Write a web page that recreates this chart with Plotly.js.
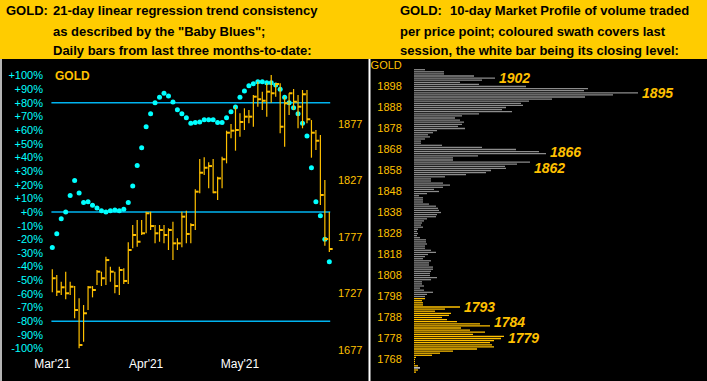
<!DOCTYPE html>
<html><head><meta charset="utf-8">
<script src="https://cdn.plot.ly/plotly-3.0.1.min.js"></script>
<style>html,body{margin:0;padding:0;background:#000;overflow:hidden}#chart{width:707px;height:381px}</style>
</head><body><div id="chart"></div>
<script>
// ---------- DATA ----------
const monthTickIndex = [0, 21, 42];
const monthLabels = ["Mar'21", "Apr'21", "May'21"];

const barHigh = [1748.4,1743.4,1737.4,1746.3,1737.4,1733.6,1722.7,1716.8,1733.6,1733.6,
  1747.8,1746.3,1759.6,1750.7,1746.3,1750.7,1749.3,1772.3,1787.6,1792,
  1792,1799.4,1799.4,1787.6,1787.6,1787.6,1784.7,1790.5,1775.8,1799.4,
  1800.3,1789.1,1819.2,1846,1847.5,1843.1,1846,1830.4,1848.1,1871.1,
  1877,1892.3,1886.5,1890.9,1889.4,1902.7,1914.4,1905.6,1913,1920.4,
  1913,1913,1901.2,1904.2,1908,1902.7,1907.1,1907.1,1880.5,1871.7,
  1867.3,1827.4,1799.1];
const barLow = [1728.1,1724.8,1725.7,1721.9,1725.7,1705.1,1678.5,1684.3,1712.4,1723.6,
  1734.5,1733.6,1734.5,1737.4,1727.2,1725.7,1735.4,1735.4,1767,1768.4,
  1778.8,1780.3,1783.2,1771.4,1772.8,1771.4,1765.5,1756.6,1765.5,1767.9,
  1771.4,1771.4,1783.2,1815.7,1831.9,1820.1,1815.7,1809.7,1820.1,1842.2,
  1864.3,1853.4,1865.8,1871.7,1877.6,1874.6,1892.3,1889.4,1883.5,1895.8,
  1901.2,1868.8,1856.9,1885,1889.4,1873.2,1873.2,1877.6,1847.2,1854,
  1805.3,1769.3,1763.7];
const barClose = [1740.5,1728.6,1732.5,1727.2,1733,1712.4,1681.4,1709.5,1732.5,1730.1,
  1746.3,1740.5,1756.6,1746.3,1733.6,1747.8,1738.1,1765.5,1778.8,1772.8,
  1780.3,1798,1786.7,1780.3,1783.2,1778.8,1783.2,1771.4,1771.4,1795,
  1779.7,1787.6,1817.1,1833.9,1838.3,1839.8,1816.6,1828.9,1845.8,1869.3,
  1871.1,1871.7,1878.8,1883.5,1883.5,1901.2,1898.9,1897.6,1905.6,1904.2,
  1912.4,1874.6,1895.3,1904.2,1896.7,1892.3,1903.3,1881.2,1869.3,1862.2,
  1814.2,1775.2,1766.4];
const trendPct = [-26,-16,-5,0,12,23,14,7,7.5,5,
  3,1,0,1,1.5,1,2,7,19,34,
  47,62.5,72,80,84,87,85,80.5,75,72,
  69,65,65.5,66,67.5,67.5,67.5,65.5,65.5,69,
  73.5,77,84,88.6,92.5,94,95.5,95.5,94.7,94.7,
  93,90,84,80,76.4,72,65,55.7,32.5,7.5,
  -2.7,-20,-36.4];

const pctTicks = [-100,-90,-80,-70,-60,-50,-40,-30,-20,-10,0,10,20,30,40,50,60,70,80,90,100];
const priceTicks = [1677, 1727, 1777, 1827, 1877];
const trendLevels = [80, 0, -80];

// Market profile: volume per price point, from profileTop downward (1 per dollar)
const profileTop = 1906;
const profileVolume = [11,30,30,60,81,68,46,65,112,174,
  170,224,199,171,138,115,107,109,92,88,
  98,65,48,41,46,50,48,44,51,23,
  19,14,16,11,7,7,28,68,102,125,
  132,64,39,39,116,103,91,92,77,72,
  52,31,17,17,29,36,29,20,25,13,
  5,9,9,9,15,22,24,25,27,23,
  22,13,10,8,7,9,4,3,4,3,
  6,12,12,13,11,11,17,22,14,11,
  9,17,15,15,19,19,17,16,16,23,
  17,8,8,10,6,10,19,13,11,11,
  8,9,9,46,31,21,37,35,28,33,
  43,66,76,47,56,71,59,90,87,80,
  76,78,80,63,39,26,18,2,1,1,
  1,4,6,4,2];
const sessionHigh = 1797, sessionLow = 1762, sessionClose = 1764;
const profileTicks = [1768,1778,1788,1798,1808,1818,1828,1838,1848,1858,1868,1878,1888,1898,1908];
const profileTickText = ['1768','1778','1788','1798','1808','1818','1828','1838','1848','1858','1868','1878','1888','1898','GOLD'];
const labelledLevels = [1902, 1895, 1866, 1862, 1793, 1784, 1779];

// ---------- BUILD ----------
const W = 707, H = 381;
const ORANGE = '#FFC000', CYAN = '#00FFFF', LINEBLUE = '#00B4F0';
const FONT = 'Arial, "Liberation Sans", sans-serif';
const n = barClose.length;
const idx = barClose.map((_, i) => i);

const lvX = [], lvY = [];
trendLevels.forEach(l => { lvX.push(-0.2, n - 1 + 0.2, null); lvY.push(l, l, null); });

const vX = [], vY = [], tX = [], tY = [];
for (let i = 0; i < n; i++) {
  vX.push(i, i, null); vY.push(barLow[i], barHigh[i], null);
  tX.push(i, i + 0.75, null); tY.push(barClose[i], barClose[i], null);
}

const profPrice = profileVolume.map((_, i) => profileTop - i);
const profColor = profPrice.map(p => p === sessionClose ? '#FFFFFF' :
  (p >= sessionLow && p <= sessionHigh ? ORANGE : '#8C8C8C'));

const traces = [
  {type:'scatter', mode:'lines', x:lvX, y:lvY, xaxis:'x', yaxis:'y',
   line:{color:LINEBLUE, width:1.5}, hoverinfo:'skip'},
  {type:'scatter', mode:'lines', x:vX, y:vY, xaxis:'x', yaxis:'y2',
   line:{color:ORANGE, width:1.2}, hoverinfo:'skip'},
  {type:'scatter', mode:'lines', x:tX, y:tY, xaxis:'x', yaxis:'y2',
   line:{color:ORANGE, width:2}, hoverinfo:'skip'},
  {type:'scatter', mode:'markers', x:idx, y:trendPct, xaxis:'x', yaxis:'y',
   marker:{color:CYAN, size:5, line:{width:0}}, hoverinfo:'skip'},
  {type:'bar', orientation:'h', x:profileVolume, y:profPrice, xaxis:'x3', yaxis:'y3',
   width:0.6, marker:{color:profColor, line:{width:0}}, hoverinfo:'skip'}
];

const px = v => v / W, py = v => 1 - v / H;
const headerBottom = 59;

const hdr = (text, x, y) => ({text, x:px(x), y:py(y), xref:'paper', yref:'paper',
  xanchor:'left', yanchor:'middle', showarrow:false,
  font:{family:FONT, size:13, color:'#000', weight:'bold'}});

const annotations = [
  hdr('GOLD:', 4, 11),
  hdr('21-day linear regression trend consistency', 51, 11),
  hdr('as described by the "Baby Blues";', 51, 31),
  hdr('Daily bars from last three months-to-date:', 51, 51),
  hdr('GOLD:', 398, 11),
  hdr('10-day Market Profile of volume traded', 448, 11),
  hdr('per price point; coloured swath covers last', 398, 31),
  hdr('session, the white bar being its closing level:', 398, 51),
  {text:'GOLD', x:px(53), y:py(76), xref:'paper', yref:'paper', xanchor:'left', yanchor:'middle',
   showarrow:false, font:{family:FONT, size:12, color:ORANGE, weight:'bold'}}
];
const labelShift = {1866: 1.5, 1862: -6, 1784: 3.5, 1779: -1.5};
labelledLevels.forEach(p => {
  const v = profileVolume[profileTop - p];
  annotations.push({text:String(p), x:v, y:p, xref:'x3', yref:'y3', xanchor:'left', yanchor:'middle',
    xshift:3, yshift:(labelShift[p] || 0), showarrow:false, borderpad:0,
    font:{family:FONT, size:14, color:ORANGE, weight:'bold', style:'italic'}});
});

const layout = {
  width:W, height:H, margin:{l:0, r:0, t:0, b:0, pad:0},
  paper_bgcolor:'#000', plot_bgcolor:'rgba(0,0,0,0)', showlegend:false,
  xaxis:{domain:[px(44), px(337)], range:[-1.858, 63.72], anchor:'y',
    tickvals:monthTickIndex, ticktext:monthLabels, ticks:'',
    tickfont:{family:FONT, size:12, color:'#FFFFFF'},
    showgrid:false, zeroline:false, showline:false},
  yaxis:{domain:[py(355), py(60)], range:[-104.76, 111.36], anchor:'x',
    tickvals:pctTicks, ticktext:pctTicks.map(v => (v >= 0 ? '+' : '') + v + '%'),
    ticks:'', tickfont:{family:FONT, size:11, color:CYAN},
    showgrid:false, zeroline:false, showline:false},
  yaxis2:{domain:[py(355), py(60)], range:[1672.58, 1933.64], overlaying:'y', side:'right', anchor:'x',
    tickvals:priceTicks, ticks:'', tickfont:{family:FONT, size:11, color:ORANGE},
    showgrid:false, zeroline:false, showline:false},
  xaxis3:{domain:[px(414), 1], range:[0, 293], anchor:'y3', visible:false},
  yaxis3:{domain:[0, py(60)], range:[1757.76, 1910.62], anchor:'x3',
    tickvals:profileTicks, ticktext:profileTickText,
    ticks:'outside', ticklen:9, tickcolor:'rgba(0,0,0,0)',
    tickfont:{family:FONT, size:11, color:ORANGE},
    showgrid:false, zeroline:false, showline:false},
  shapes:[
    {type:'rect', xref:'paper', yref:'paper', x0:0, x1:1, y0:py(headerBottom), y1:1,
     fillcolor:'#FFCC00', line:{width:0}, layer:'below'},
    {type:'rect', xref:'paper', yref:'paper', x0:0, x1:px(2), y0:0, y1:py(headerBottom),
     fillcolor:'#B4B4B4', line:{width:0}, layer:'below'},
    {type:'line', xref:'paper', yref:'paper', x0:px(369.5), x1:px(369.5), y0:0, y1:py(headerBottom),
     line:{color:'#FFFFFF', width:2}}
  ],
  annotations
};

Plotly.newPlot('chart', traces, layout, {staticPlot:true, displayModeBar:false});
</script></body></html>
